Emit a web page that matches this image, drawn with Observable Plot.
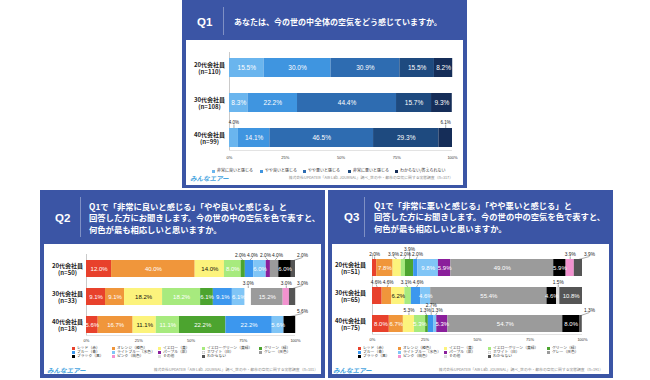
<!DOCTYPE html>
<html><head><meta charset="utf-8">
<script src="https://cdn.jsdelivr.net/npm/d3@7"></script>
<script src="https://cdn.jsdelivr.net/npm/@observablehq/plot@0.6"></script>
<style>
body{margin:0;background:#fff;font-family:"Noto Sans CJK JP","Noto Sans",sans-serif;}
#root{position:relative;width:650px;height:380px;overflow:hidden;background:#fff;}
.a{position:absolute;white-space:nowrap;}
.panel{background:#3b55a5;}
.inner{background:#fff;}
.qn{color:#fff;font-weight:700;font-family:"Liberation Sans",Arial,sans-serif;}
.vd{width:1px;background:rgba(255,255,255,0.35);}
.title{color:#fff;font-weight:700;}
.logo{color:#4aa6df;font-weight:700;font-style:italic;}
.src{color:#888;}
</style></head>
<body><div id="root"></div>
<script>
// ---------- Q1 data ----------
const q1Title = "あなたは、今の世の中全体の空気をどう感じていますか。";
const q1Cats = ["20代会社員\n(n=110)", "30代会社員\n(n=108)", "40代会社員\n(n=99)"];
const q1Series = ["非常に良いと感じる", "やや良いと感じる", "やや悪いと感じる", "非常に悪いと感じる", "わからない/答えられない"];
const q1Colors = ["#6ab5ee", "#3f95e0", "#2e6cb1", "#1e4a7f", "#152d58"];
const q1Values = [
  [15.5, 30.0, 30.9, 15.5, 8.2],
  [8.3, 22.2, 44.4, 15.7, 9.3],
  [4.0, 14.1, 46.5, 29.3, 6.1]
];
const q1Outside = [[], [], [0, 4]];

// ---------- colour answer series (Q2, Q3) ----------
const colorSeries = ["レッド（赤）", "オレンジ（橙色）", "イエロー（黄）", "イエローグリーン（黄緑）", "グリーン（緑）",
  "ブルー（青）", "ライトブルー（水色）", "パープル（紫）", "ホワイト（白）", "グレー（灰色）",
  "ブラック（黒）", "ピンク（桃色）", "その他", "わからない"];
const colorFills = ["#e8412c", "#f0963b", "#fcf37c", "#a7ea7e", "#4ca42f",
  "#3c97ee", "#80c5f6", "#8a1f9b", "#ffffff", "#9b9b9b",
  "#000000", "#f292cf", "#dddddd", "#555555"];

// ---------- Q2 data ----------
const q2Title = ["Q1で「非常に良いと感じる」「やや良いと感じる」と", "回答した方にお聞きします。今の世の中の空気を色で表すと、", "何色が最も相応しいと思いますか。"];
const q2Cats = ["20代会社員\n(n=50)", "30代会社員\n(n=33)", "40代会社員\n(n=18)"];
const q2Values = [
  [12.0, 40.0, 14.0, 8.0, 2.0, 4.0, 6.0, 2.0, 0, 4.0, 6.0, 0, 0, 2.0],
  [9.1, 9.1, 18.2, 18.2, 6.1, 9.1, 6.1, 0, 3.0, 15.2, 0, 3.0, 0, 3.0],
  [5.6, 16.7, 11.1, 11.1, 22.2, 22.2, 5.6, 0, 0, 0, 5.6, 0, 0, 0]
];
const q2Outside = [[4, 5, 7, 9, 13], [8, 11, 13], [10]];

// ---------- Q3 data ----------
const q3Title = ["Q1で「非常に悪いと感じる」「やや悪いと感じる」と", "回答した方にお聞きします。今の世の中の空気を色で表すと、", "何色が最も相応しいと思いますか。"];
const q3Cats = ["20代会社員\n(n=51)", "30代会社員\n(n=65)", "40代会社員\n(n=75)"];
const q3Values = [
  [2.0, 7.8, 3.9, 2.0, 3.9, 2.0, 9.8, 5.9, 0, 49.0, 5.9, 3.9, 0, 3.9],
  [4.6, 4.6, 6.2, 3.1, 0, 4.6, 4.6, 0, 0, 55.4, 4.6, 0, 1.5, 10.8],
  [8.0, 6.7, 5.3, 5.3, 1.3, 2.7, 1.3, 5.3, 0, 54.7, 8.0, 0, 0, 1.3]
];
const q3Outside = [[0, 2, 3, 4, 5, 11, 13], [0, 1, 3, 5, 12], [2, 4, 5, 6, 13]];

const srcBase = "株式会社UPDATER「AIR Lab. JOURNAL」調べ_世の中・都市の空気に関する実態調査";
const logoText = "みんなエアー";

// ---------- helpers ----------
const root = document.getElementById("root");
function box(cls, x, y, w, h, text, extra) {
  const d = document.createElement("div");
  d.className = "a " + cls;
  d.style.left = x + "px"; d.style.top = y + "px";
  if (w != null) d.style.width = w + "px";
  if (h != null) d.style.height = h + "px";
  if (text != null) d.textContent = text;
  if (extra) Object.assign(d.style, extra);
  root.appendChild(d);
  return d;
}

function barChart(o) {
  const step = o.step, hb = o.barH / 2 / step;
  const ppu = (o.xRange[1] - o.xRange[0]) / 100;
  const segs = [];
  o.values.forEach((row, r) => {
    let acc = 0;
    const lastIdx = row.reduce((m, v, i) => v > 0 ? i : m, -1);
    row.forEach((v, s) => {
      if (v > 0) segs.push({r, s, v, name: o.series[s], x1: acc, x2: acc + v, mid: acc + v / 2,
        out: o.outside[r].includes(s), last: s === lastIdx});
      acc += v;
    });
  });
  const inside = segs.filter(d => !d.out);
  const outs = segs.filter(d => d.out);
  const sep = o.sepPx / ppu;
  for (let r = 0; r < o.cats.length; r++) {
    const row = outs.filter(d => d.r === r).sort((a, b) => a.mid - b.mid);
    let prev1 = -Infinity;
    for (const d of row) {
      d.lx = (o.lastRight && d.last) ? Math.max(d.mid, 100 + o.rightPadPx / ppu) : d.mid;
      const c1 = Math.max(d.lx, prev1 + sep);
      if (c1 - d.lx <= sep / 2) { d.lvl = 1; prev1 = c1; } else { d.lvl = 2; }
    }
    for (const lvl of [1, 2]) {
      const g = row.filter(d => d.lvl === lvl);
      for (let it = 0; it < 60; it++) {
        for (let i = 0; i + 1 < g.length; i++) {
          const gap = g[i + 1].lx - g[i].lx;
          if (gap < sep) { const p = (sep - gap) / 2; g[i].lx -= p; g[i + 1].lx += p; }
        }
      }
    }
  }
  const topOf = d => d.r - hb;
  const lblY = d => d.r - hb - (o.gapPx + (d.lvl - 1) * o.lvlPx) / step;
  const yDomain = [-o.row0 / step, (o.height - o.row0) / step];
  const axisVal = (o.height - o.marginBottom - o.row0) / step;
  const pct = d => d.v.toFixed(1) + "%";
  const numFont = "'Liberation Sans', Arial, sans-serif";
  return Plot.plot({
    width: o.width, height: o.height,
    marginLeft: o.xRange[0], marginRight: o.width - o.xRange[1],
    marginTop: o.marginTop, marginBottom: o.marginBottom,
    x: {domain: [0, 100], range: o.xRange},
    y: {domain: yDomain, range: [0, o.height], axis: null},
    color: {domain: o.series, range: o.colors},
    style: {background: "transparent", overflow: "visible", color: "#333", fontFamily: numFont},
    marks: [
      Plot.ruleY([axisVal], {stroke: "#d0d0d0", strokeWidth: 0.6}),
      Plot.ruleX([0], {stroke: "#bdbdbd", strokeWidth: 0.8}),
      Plot.link(outs, {x1: "mid", y1: topOf, x2: "lx", y2: lblY, stroke: "#444", strokeWidth: 0.45}),
      Plot.rect(segs, {x1: "x1", x2: "x2", y1: d => d.r - hb, y2: d => d.r + hb, fill: "name"}),
      Plot.text(inside.filter(d => !o.darkText.includes(d.s)), {x: "mid", y: "r", text: pct, fill: "#fff", fontSize: o.inFont}),
      Plot.text(inside.filter(d => o.darkText.includes(d.s)), {x: "mid", y: "r", text: pct, fill: "#111", fontSize: o.inFont}),
      Plot.text(outs, {x: "lx", y: lblY, text: pct, lineAnchor: "bottom", dy: -0.3, fontSize: o.outFont, fill: "#222"}),
      Plot.text(o.cats, {y: (d, i) => i, text: d => d, frameAnchor: "left", dx: o.catCX - o.xRange[0],
        textAnchor: "middle", fontWeight: "bold", fontSize: o.catFont, lineHeight: 1.3, fill: "#222",
        fontFamily: "'Noto Sans CJK JP', sans-serif"}),
      Plot.axisX({ticks: [0, 25, 50, 75, 100], tickFormat: d => d + "%", tickSize: 0, tickPadding: o.tickPad, fontSize: o.tickFont})
    ]
  });
}

function place(svg, x, y) {
  const d = box("", x, y);
  d.appendChild(svg);
}

function header(label, qx, divx, tx, y0, lines, cy, lineH, font) {
  box("qn", qx, cy - 7, null, 14, label, {fontSize: "11.5px", lineHeight: "14px"});
  box("vd", divx, y0 + 7, null, lines.length > 1 ? 40 : 28);
  const t = box("title", tx, cy - lineH * lines.length / 2, null, null, null,
    {fontSize: font + "px", lineHeight: lineH + "px"});
  t.innerHTML = lines.join("<br>");
}

function legendGrid(names, fills, cols, rowsY, fs) {
  names.forEach((n, i) => {
    const c = i % cols.length, r = Math.floor(i / cols.length);
    const x = cols[c], y = rowsY[r];
    const sw = box("", x, y - 1.5, 3, 3, null, {background: fills[i]});
    if (fills[i] === "#ffffff") sw.style.boxShadow = "inset 0 0 0 0.4px #bbb";
    box("", x + 5, y - fs * 0.7, null, null, n, {fontSize: fs + "px", lineHeight: (fs * 1.4) + "px", color: "#333"});
  });
}

function footer(lx, rx, cy, n) {
  box("logo", lx, cy - 5, null, 10, logoText, {fontSize: "6.5px", lineHeight: "10px"});
  const s = box("src", 0, cy - 3, null, 6, srcBase + "（n=" + n + "）", {fontSize: "3.8px", lineHeight: "6px"});
  s.style.left = "auto"; s.style.right = (650 - rx) + "px";
}

// ---------- panels ----------
box("panel", 182, -4, 285, 192);
box("inner", 186, 40, 277, 145);
box("panel", 40, 190, 285, 188);
box("inner", 44, 244, 277, 130);
box("panel", 328, 190, 285, 188);
box("inner", 332, 244, 277, 130);

header("Q1", 197, 223, 234, 0, [q1Title], 22, 12, 8);
header("Q2", 55, 80, 89, 190, q2Title, 218, 11.6, 8.3);
header("Q3", 344, 364, 374, 190, q3Title, 217, 11.6, 8.3);

// ---------- charts ----------
place(barChart({cats: q1Cats, values: q1Values, series: q1Series, colors: q1Colors, outside: q1Outside,
  width: 277, height: 126, xRange: [43, 266], row0: 23.5, step: 35, barH: 19, marginTop: 8, marginBottom: 20,
  gapPx: 4, lvlPx: 5, sepPx: 12, inFont: 6.5, outFont: 4.5, catFont: 6, catCX: 23, tickFont: 4, tickPad: 6,
  lastRight: false, rightPadPx: 0, darkText: []}), 186, 44);

place(barChart({cats: q2Cats, values: q2Values, series: colorSeries, colors: colorFills, outside: q2Outside,
  width: 278, height: 102, xRange: [42, 251], row0: 24.5, step: 28, barH: 17, marginTop: 10, marginBottom: 11,
  gapPx: 3, lvlPx: 5, sepPx: 12, inFont: 6, outFont: 4.8, catFont: 6, catCX: 23, tickFont: 4, tickPad: 4,
  lastRight: true, rightPadPx: 7, darkText: [2]}), 44, 244);

place(barChart({cats: q3Cats, values: q3Values, series: colorSeries, colors: colorFills, outside: q3Outside,
  width: 278, height: 102, xRange: [40, 250], row0: 23.5, step: 28, barH: 17, marginTop: 9, marginBottom: 12,
  gapPx: 3, lvlPx: 5, sepPx: 12, inFont: 6, outFont: 4.8, catFont: 6, catCX: 18, tickFont: 4, tickPad: 4,
  lastRight: true, rightPadPx: 7, darkText: [2]}), 332, 244);

// ---------- legends ----------
legendGrid(q1Series, q1Colors, [212, 260, 303, 348, 395], [171], 4);
legendGrid(colorSeries, colorFills, [72, 112, 158, 202, 259], [348, 352, 356], 3.8);
legendGrid(colorSeries, colorFills, [358, 398, 444, 488, 547], [348, 352, 356], 3.8);

// ---------- footers ----------
footer(190, 453, 178, 317);
footer(47, 318, 370, 101);
footer(333, 603, 370, 191);
</script>
</body></html>
